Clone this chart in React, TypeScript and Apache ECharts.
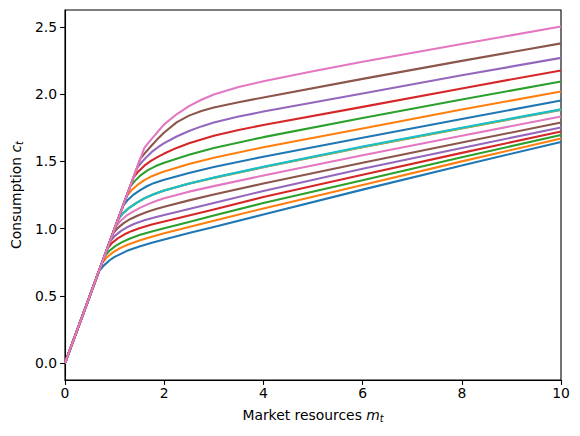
import React, { useEffect, useRef } from "react";
import * as echarts from "echarts";

const tab10 = ["#1f77b4", "#ff7f0e", "#2ca02c", "#d62728", "#9467bd", "#8c564b", "#e377c2", "#7f7f7f", "#bcbd22", "#17becf"];

const xTicks = [0, 2, 4, 6, 8, 10];
const yTicks = [0, 0.5, 1, 1.5, 2, 2.5];

const c00 = [[0,0],[0.68,0.68],[0.78,0.725],[0.9,0.765],[1.0,0.79],[1.25,0.835],[1.5,0.868],[1.75,0.895],[2,0.92],[2.5,0.967],[3,1.013],[4,1.105],[6,1.29],[8,1.47],[10,1.644]];
const c01 = [[0,0],[0.74,0.74],[0.84,0.785],[0.96,0.822],[1.1,0.853],[1.25,0.878],[1.5,0.912],[1.75,0.94],[2,0.965],[2.5,1.012],[3,1.058],[4,1.15],[6,1.325],[8,1.5],[10,1.67]];
const c02 = [[0,0],[0.79,0.79],[0.89,0.834],[1.02,0.872],[1.15,0.9],[1.3,0.925],[1.5,0.952],[1.75,0.978],[2,1.002],[2.5,1.05],[3,1.097],[4,1.19],[6,1.36],[8,1.53],[10,1.696]];
const c03 = [[0,0],[0.85,0.85],[0.95,0.894],[1.08,0.932],[1.2,0.958],[1.35,0.983],[1.5,1.003],[1.75,1.03],[2,1.053],[2.5,1.098],[3,1.143],[4,1.235],[6,1.4],[8,1.563],[10,1.722]];
const c04 = [[0,0],[0.9,0.9],[1.0,0.944],[1.13,0.983],[1.25,1.01],[1.4,1.036],[1.6,1.062],[1.8,1.083],[2,1.101],[2.5,1.146],[3,1.19],[4,1.28],[6,1.445],[8,1.6],[10,1.752]];
const c05 = [[0,0],[0.96,0.96],[1.06,1.004],[1.19,1.043],[1.32,1.072],[1.47,1.098],[1.65,1.123],[1.82,1.144],[2,1.163],[2.5,1.21],[3,1.254],[4,1.335],[6,1.49],[8,1.64],[10,1.789]];
const c06 = [[0,0],[1.01,1.01],[1.11,1.055],[1.24,1.096],[1.38,1.128],[1.53,1.158],[1.7,1.186],[1.85,1.207],[2,1.225],[2.5,1.275],[3,1.316],[4,1.395],[6,1.545],[8,1.69],[10,1.834]];
const c07 = [[0,0],[1.07,1.07],[1.17,1.115],[1.3,1.157],[1.45,1.193],[1.6,1.225],[1.75,1.25],[1.9,1.27],[2,1.283],[2.5,1.334],[3,1.376],[4,1.456],[6,1.605],[8,1.745],[10,1.882]];
const c08 = [[0,0],[1.07,1.07],[1.17,1.115],[1.3,1.157],[1.45,1.193],[1.6,1.225],[1.75,1.25],[1.9,1.27],[2,1.283],[2.5,1.335],[3,1.378],[4,1.458],[6,1.607],[8,1.747],[10,1.885]];
const c09 = [[0,0],[1.07,1.07],[1.17,1.115],[1.3,1.157],[1.45,1.193],[1.6,1.225],[1.75,1.25],[1.9,1.27],[2,1.283],[2.5,1.336],[3,1.38],[4,1.46],[6,1.61],[8,1.75],[10,1.888]];
const c10 = [[0,0],[1.17,1.17],[1.27,1.215],[1.39,1.255],[1.5,1.283],[1.65,1.315],[1.8,1.34],[2,1.364],[2.5,1.413],[3,1.458],[4,1.535],[6,1.675],[8,1.815],[10,1.953]];
const c11 = [[0,0],[1.24,1.24],[1.34,1.285],[1.46,1.325],[1.6,1.36],[1.75,1.39],[1.9,1.412],[2,1.425],[2.5,1.48],[3,1.527],[4,1.605],[6,1.745],[8,1.885],[10,2.02]];
const c12 = [[0,0],[1.31,1.31],[1.41,1.355],[1.53,1.398],[1.67,1.435],[1.83,1.465],[2,1.49],[2.5,1.55],[3,1.6],[4,1.68],[6,1.823],[8,1.96],[10,2.094]];
const c13 = [[0,0],[1.38,1.38],[1.48,1.425],[1.6,1.468],[1.74,1.505],[1.88,1.535],[2,1.558],[2.25,1.6],[2.5,1.635],[3,1.69],[3.5,1.733],[4,1.77],[6,1.905],[8,2.042],[10,2.176]];
const c14 = [[0,0],[1.45,1.45],[1.55,1.495],[1.65,1.535],[1.75,1.57],[1.875,1.605],[2,1.635],[2.25,1.685],[2.5,1.726],[2.75,1.76],[3,1.788],[3.5,1.833],[4,1.87],[6,2.005],[8,2.14],[10,2.269]];
const c15 = [[0,0],[1.52,1.52],[1.62,1.565],[1.72,1.607],[1.85,1.66],[2,1.715],[2.25,1.79],[2.5,1.84],[2.75,1.875],[3,1.9],[3.5,1.94],[4,1.975],[6,2.113],[8,2.247],[10,2.377]];
const c16 = [[0,0],[1.6,1.6],[1.7,1.646],[1.8,1.69],[1.9,1.733],[2,1.775],[2.25,1.85],[2.5,1.91],[2.75,1.958],[3,1.997],[3.5,2.052],[4,2.095],[5,2.17],[6,2.24],[8,2.372],[10,2.502]];

const curves = [c00, c01, c02, c03, c04, c05, c06, c07, c08, c09, c10, c11, c12, c13, c14, c15, c16];

const FONT = "DejaVu Sans";

export default function App() {
  const ref = useRef<HTMLDivElement>(null);
  useEffect(() => {
    if (!ref.current) return;
    const chart = echarts.init(ref.current, undefined, { renderer: "svg" });
    chart.setOption({
      animation: false,
      backgroundColor: "#ffffff",
      textStyle: { fontFamily: FONT },
      grid: {
        left: 65,
        right: 19,
        top: 10,
        bottom: 56,
        show: true,
        borderColor: "#000",
        borderWidth: 1.1,
        containLabel: false,
      },
      xAxis: {
        type: "value",
        min: 0,
        max: 10,
        interval: 2,
        splitLine: { show: false },
        axisLine: { show: true, onZero: false, lineStyle: { color: "#000", width: 1.1 } },
        axisTick: { show: true, inside: false, length: 4.9, lineStyle: { color: "#000", width: 1.1 } },
        axisLabel: { show: true, margin: 6, color: "#000", fontSize: 13.9, fontFamily: FONT, customValues: xTicks },
        name: "Market resources {i|m}{s|t}",
        nameLocation: "middle",
        nameGap: 26,
        nameTextStyle: {
          color: "#000",
          fontSize: 13.9,
          fontFamily: FONT,
          rich: {
            i: { fontSize: 13.9, fontStyle: "italic", fontFamily: FONT, color: "#000" },
            s: { fontSize: 9.7, fontStyle: "italic", fontFamily: FONT, color: "#000", padding: [7, 0, 0, 0] },
          },
        },
      },
      yAxis: {
        type: "value",
        min: -0.125,
        max: 2.625,
        splitLine: { show: false },
        axisLine: { show: true, onZero: false, lineStyle: { color: "#000", width: 1.1 } },
        axisTick: { show: true, inside: false, length: 4.9, lineStyle: { color: "#000", width: 1.1 }, customValues: yTicks },
        axisLabel: {
          show: true,
          margin: 8,
          color: "#000",
          fontSize: 13.9,
          fontFamily: FONT,
          customValues: yTicks,
          formatter: (v: number) => v.toFixed(1),
        },
        name: "Consumption {i|c}{s|t}",
        nameLocation: "middle",
        nameGap: 40,
        nameRotate: 90,
        nameTextStyle: {
          color: "#000",
          fontSize: 13.9,
          fontFamily: FONT,
          rich: {
            i: { fontSize: 13.9, fontStyle: "italic", fontFamily: FONT, color: "#000" },
            s: { fontSize: 9.7, fontStyle: "italic", fontFamily: FONT, color: "#000", padding: [7, 0, 0, 0] },
          },
        },
      },
      series: curves.map((d, i) => ({
        type: "line",
        data: d,
        showSymbol: false,
        symbol: "none",
        smooth: false,
        clip: true,
        lineStyle: { width: 2.08, color: tab10[i % 10], cap: "butt", join: "round" },
        itemStyle: { color: tab10[i % 10] },
        z: 2 + i,
      })),
    });
    return () => chart.dispose();
  }, []);
  return <div ref={ref} style={{ width: 580, height: 436, position: "absolute", left: 0, top: 0 }} />;
}
